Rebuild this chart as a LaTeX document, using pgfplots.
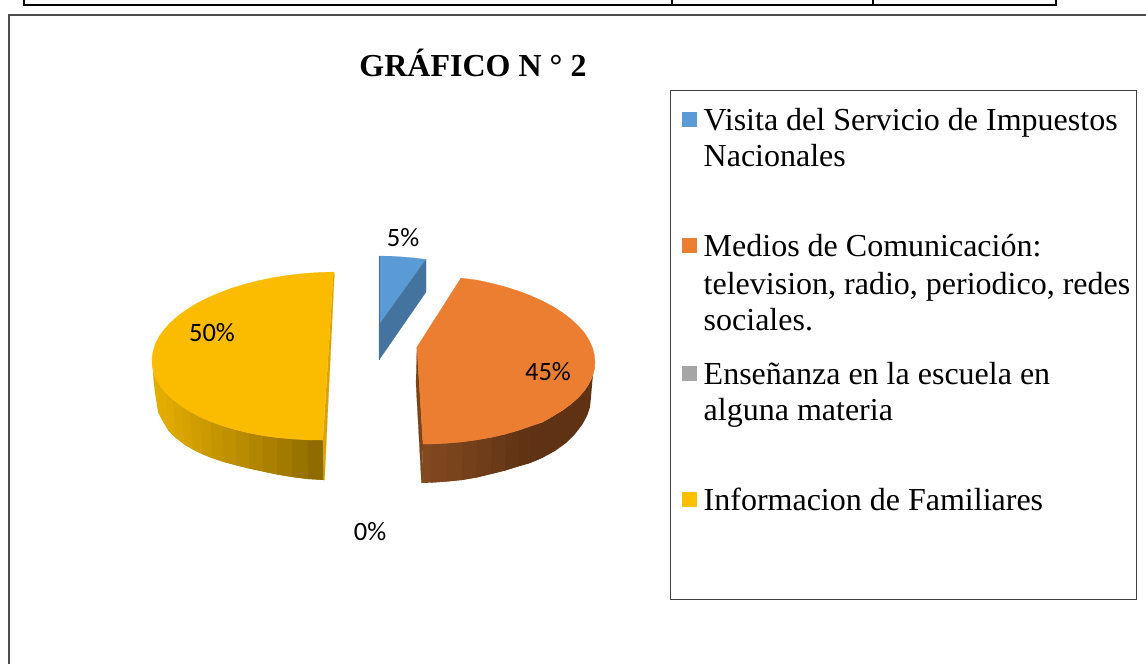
\documentclass[border=0pt]{standalone}
\usepackage{fontspec}
\usepackage{pgfplots}
\pgfplotsset{compat=1.18}
\setmainfont{Liberation Serif}
\newfontfamily\lab{Carlito}
\definecolor{cBlue}{HTML}{5B9BD5}
\definecolor{cBlueS}{HTML}{44739F}
\definecolor{cOr}{HTML}{EC7E32}
\definecolor{cOrI}{HTML}{7A4318}
\definecolor{cYe}{HTML}{FBBC00}
\definecolor{cYeI}{HTML}{D9A300}
\definecolor{cGr}{HTML}{A5A5A5}
\definecolor{cLeg}{HTML}{FFC000}
\definecolor{cLegO}{HTML}{ED7D31}
\definecolor{oA}{HTML}{824A20}
\definecolor{oE}{HTML}{5F3213}
\definecolor{yA}{HTML}{E3AC00}
\definecolor{yI}{HTML}{8B6800}
\newcommand{\poly}[2]{\addplot[fill=#1,draw=#1,line width=0.2pt] coordinates {#2} -- cycle;}
\newcommand{\strip}[2]{\addplot[fill=#1,draw=none] coordinates {#2} -- cycle;}
\newcommand{\legline}[2]{\node[font=\fontsize{32}{32}\selectfont,anchor=base west,inner sep=0pt] at (axis cs:703.5,#1) {#2};}
\newcommand{\pct}[3]{\node[font=\lab\fontsize{26.5}{26.5}\selectfont,anchor=center] at (axis cs:#1,#2) {#3\%};}
\begin{document}
\begin{tikzpicture}[x=1pt,y=1pt]
\path[use as bounding box] (0pt,0pt) rectangle (1146pt,664pt);
\begin{axis}[at={(0pt,0pt)},anchor=south west,scale only axis,width=1146pt,height=664pt,
  xmin=0,xmax=1146,ymin=0,ymax=664,y dir=reverse,hide axis]
% frames
\addplot[black,line width=2.4pt] coordinates {(24,-5) (24,5) (1056,5) (1056,-5)};
\addplot[black,line width=2pt] coordinates {(672,-5) (672,5)};
\addplot[black,line width=2pt] coordinates {(873,-5) (873,5)};
\addplot[black!70,line width=1.3pt] coordinates {(9,670) (9,15) (1150,15)};
\addplot[black!75,line width=1pt] coordinates {(670.5,90) (1136.5,90) (1136.5,599) (670.5,599) (670.5,90)};
% blue slice
\poly{cBlue}{(379,256) (391,256.2) (403,257) (415,258) (426,259.5) (379,325)}
\poly{cBlueS}{(426,259.5) (426,292) (379,360) (379,325)}
\addplot[cBlueS,line width=0.6pt] coordinates {(379,256) (379,360)};
% orange side strips
\poly{cOrI}{(417,347) (416,383) (421.5,483) (423,444)}
\strip{oA!97!oE}{(423,444) (431.6,444) (447.1,443.2) (446.8,481.5) (431.4,482.6) (421.5,483)}
\strip{oA!85!oE}{(431.6,444) (447.1,443.2) (462.4,441.9) (461.8,480) (446.8,481.5) (431.4,482.6)}
\strip{oA!73!oE}{(447.1,443.2) (462.4,441.9) (477.2,439.9) (476.5,477.5) (461.8,480) (446.8,481.5)}
\strip{oA!60!oE}{(462.4,441.9) (477.2,439.9) (491.7,437.3) (491,474) (476.5,477.5) (461.8,480)}
\strip{oA!45!oE}{(477.2,439.9) (491.7,437.3) (505.5,434.1) (505,470.5) (491,474) (476.5,477.5)}
\strip{oA!30!oE}{(491.7,437.3) (505.5,434.1) (518.7,430.3) (518,466.5) (505,470.5) (491,474)}
\strip{oA!15!oE}{(505.5,434.1) (518.7,430.3) (531.1,426) (530,463) (518,466.5) (505,470.5)}
\strip{oA!5!oE}{(518.7,430.3) (531.1,426) (542.6,422.2) (543,457.5) (530,463) (518,466.5)}
\strip{oE}{(531.1,426) (542.6,422.2) (553.1,416) (562.6,410.3) (571,404.1) (578.2,397.7) (584.3,390.9) (588.9,383.9) (592.3,376.8) (594.3,369.4) (595,362) (593,375) (592,385) (591,397) (590,407) (587,416) (582,425) (575,434) (566,443) (555,451) (543,457.5) (530,463)}
% orange top
\poly{cOr}{(417,347) (461,278) (477.2,280.1) (491.7,283.3) (505.5,286.9) (518.7,291.1) (531.1,295.8) (542.6,301) (553.1,306.6) (562.6,312.7) (571,319.1) (578.2,325.7) (584.3,332.7) (588.9,339.9) (592.3,347.2) (594.3,354.6) (595,362) (594.3,369.4) (592.3,376.8) (588.9,383.9) (584.3,390.9) (578.2,397.7) (571,404.1) (562.6,410.3) (553.1,416) (542.6,422.2) (531.1,426) (518.7,430.3) (505.5,434.1) (491.7,437.3) (477.2,439.9) (462.4,441.9) (447.1,443.2) (431.6,444) (423,444)}
% yellow side strips
\strip{yA}{(152,358) (152.2,365.3) (153.7,372.6) (156.6,379.7) (160.8,386.6) (166.3,393.3) (173,399.7) (176,438) (168,430) (162,420) (158,412) (155,393) (153.5,380) (152.5,362)}
\strip{yA!95!yI}{(166.3,393.3) (173,399.7) (180.9,405.8) (185,445) (176,438) (168,430)}
\strip{yA!90!yI}{(173,399.7) (180.9,405.8) (189.8,411.5) (193,449.5) (185,445) (176,438)}
\strip{yA!85!yI}{(180.9,405.8) (189.8,411.5) (199.9,416.8) (202,454) (193,449.5) (185,445)}
\strip{yA!80!yI}{(189.8,411.5) (199.9,416.8) (210.8,421.6) (212,458) (202,454) (193,449.5)}
\strip{yA!73!yI}{(199.9,416.8) (210.8,421.6) (222.7,425.9) (224,462) (212,458) (202,454)}
\strip{yA!66!yI}{(210.8,421.6) (222.7,425.9) (235.5,429.7) (236,465.3) (224,462) (212,458)}
\strip{yA!59!yI}{(222.7,425.9) (235.5,429.7) (248.8,432.9) (249,468.5) (236,465.3) (224,462)}
\strip{yA!51!yI}{(235.5,429.7) (248.8,432.9) (262.9,435.7) (263,471.5) (249,468.5) (236,465.3)}
\strip{yA!43!yI}{(248.8,432.9) (262.9,435.7) (277.3,437.6) (277,474.5) (263,471.5) (249,468.5)}
\strip{yA!35!yI}{(262.9,435.7) (277.3,437.6) (292.2,439) (292,477) (277,474.5) (263,471.5)}
\strip{yA!26!yI}{(277.3,437.6) (292.2,439) (307.5,439.9) (308,479) (292,477) (277,474.5)}
\strip{yA!16!yI}{(292.2,439) (307.5,439.9) (322.7,440) (324,480) (308,479) (292,477)}
\strip{yA!6!yI}{(307.5,439.9) (322.7,440) (324,480) (308,479)}
\poly{cYeI}{(333.5,272) (334.4,273) (324.5,480) (323.5,480) (323,440)}
% yellow top
\poly{cYe}{(333.3,272) (317.9,272.5) (302.6,273.6) (287.5,275.4) (272.7,277.7) (258.4,280.7) (244.5,284.3) (231.3,288.3) (218.8,293) (207.3,298) (196.6,303.5) (186.9,309.4) (178.2,315.7) (170.7,322.3) (164.4,329.2) (159.4,336.1) (155.5,343.4) (153.2,350.7) (152,358) (152.2,365.3) (153.7,372.6) (156.6,379.7) (160.8,386.6) (166.3,393.3) (173,399.7) (180.9,405.8) (189.8,411.5) (199.9,416.8) (210.8,421.6) (222.7,425.9) (235.5,429.7) (248.8,432.9) (262.9,435.7) (277.3,437.6) (292.2,439) (307.5,439.9) (322.7,440)}
% legend keys
\addplot[only marks,mark=square*,mark size=7pt,cBlue,mark options={draw=none}] coordinates {(689,119)};
\addplot[only marks,mark=square*,mark size=7pt,cLegO,mark options={draw=none}] coordinates {(689,245)};
\addplot[only marks,mark=square*,mark size=7pt,cGr,mark options={draw=none}] coordinates {(689,373)};
\addplot[only marks,mark=square*,mark size=7pt,cLeg,mark options={draw=none}] coordinates {(689,499)};
% text
\node[font=\fontsize{32}{32}\selectfont\bfseries,anchor=base] at (axis cs:473,76) {GRÁFICO N ° 2};
\legline{130}{Visita del Servicio de Impuestos}
\legline{166}{Nacionales}
\legline{256}{Medios de Comunicación:}
\legline{294}{television, radio, periodico, redes}
\legline{330}{sociales.}
\legline{384}{Enseñanza en la escuela en}
\legline{420}{alguna materia}
\legline{510}{Informacion de Familiares}
\pct{403}{238}{5}
\pct{212}{333}{50}
\pct{548}{372}{45}
\pct{370}{532}{0}
\end{axis}
\end{tikzpicture}
\end{document}
